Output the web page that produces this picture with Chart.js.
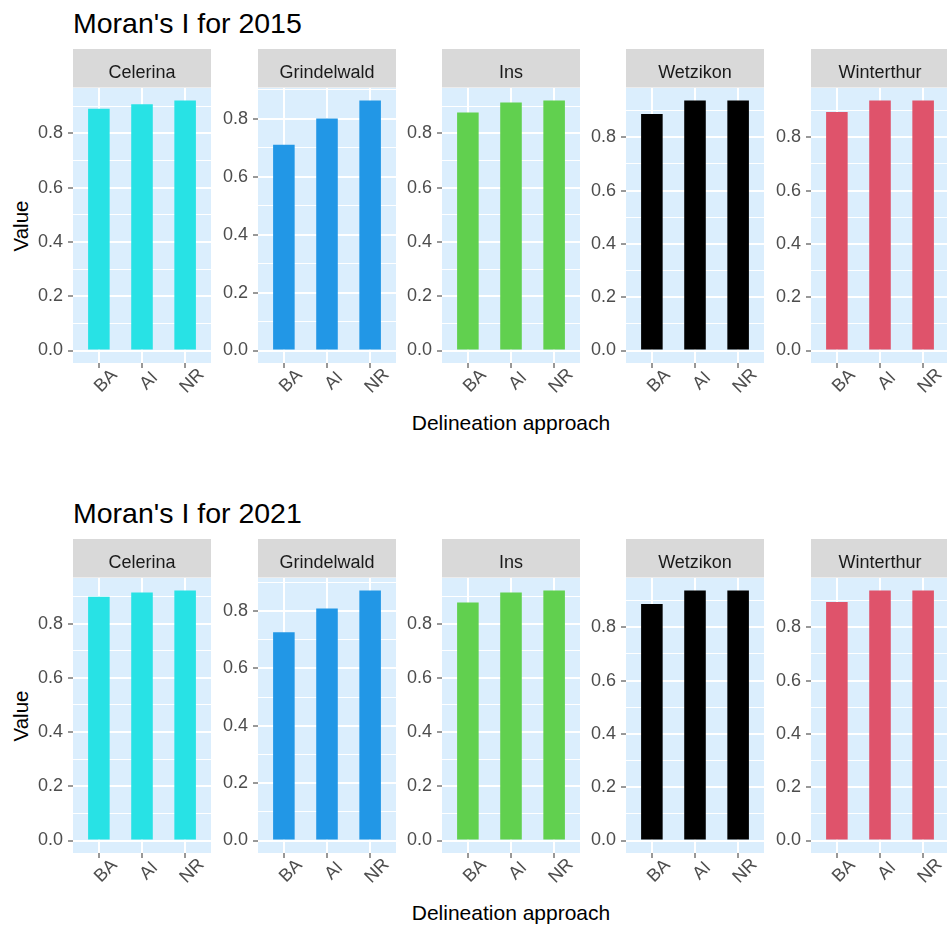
<!DOCTYPE html>
<html>
<head>
<meta charset="utf-8">
<title>Moran's I</title>
<script src="https://cdn.jsdelivr.net/npm/chart.js@4.4.1/dist/chart.umd.min.js"></script>
<style>
  html, body { margin: 0; padding: 0; background: #fff; }
  #fig {
    position: relative; width: 947px; height: 926px; overflow: hidden;
    font-family: "Liberation Sans", Arial, sans-serif; color: #000;
  }
  #fig canvas { position: absolute; }
  .plot-title { position: absolute; left: 73px; font-size: 28.5px; line-height: 1; white-space: nowrap; }
  .x-title { position: absolute; left: 511px; font-size: 21px; line-height: 1; white-space: nowrap; transform: translateX(-50%); }
  .y-title { position: absolute; left: 20.5px; font-size: 20.5px; line-height: 1; white-space: nowrap; transform: translate(-50%, -50%) rotate(-90deg); }
</style>
</head>
<body>
<div id="fig"></div>
<script>
// =====================
// DATA
// =====================
const TOWNS = ["Celerina", "Grindelwald", "Ins", "Wetzikon", "Winterthur"];
const APPROACHES = ["BA", "AI", "NR"];
const TOWN_COLORS = ["#28E2E5", "#2297E6", "#61D04F", "#000000", "#DF536B"];
const YEARS = ["2015", "2021"];

// Moran's I per approach (BA, AI, NR)
const celerina2015 = [0.891, 0.907, 0.921];
const grindelwald2015 = [0.710, 0.801, 0.863];
const ins2015 = [0.877, 0.914, 0.921];
const wetzikon2015 = [0.887, 0.938, 0.938];
const winterthur2015 = [0.895, 0.938, 0.938];

const celerina2021 = [0.899, 0.915, 0.922];
const grindelwald2021 = [0.726, 0.809, 0.872];
const ins2021 = [0.878, 0.915, 0.922];
const wetzikon2021 = [0.887, 0.938, 0.938];
const winterthur2021 = [0.895, 0.938, 0.938];

const SERIES_BY_YEAR = [
  [celerina2015, grindelwald2015, ins2015, wetzikon2015, winterthur2015],
  [celerina2021, grindelwald2021, ins2021, wetzikon2021, winterthur2021]
];

// =====================
// LOOK
// =====================
const FONT = '"Liberation Sans", Arial, sans-serif';
const PANEL_BG = "#dbeefd";
const STRIP_BG = "#d9d9d9";
const ROW_TOP = [49, 539];      // top of the strip row
const ROW_STEP = 490.5;
const STRIP_H = 39;
const Y_AXIS_W = 46;
const X_AXIS_H = 40;
const PANEL_W = 138;
const PANEL_H = 275;

Chart.defaults.font.family = FONT;

const isMajor = v => Math.round(v * 10) % 2 === 0;

// ggplot-like panel background, facet strip and slanted x labels
const facetPlugin = {
  id: "facet",
  beforeDraw(chart, args, opts) {
    const { ctx, chartArea: a } = chart;
    ctx.save();
    ctx.fillStyle = PANEL_BG;
    ctx.fillRect(a.left, a.top, a.right - a.left, a.bottom - a.top);
    ctx.fillStyle = STRIP_BG;
    ctx.fillRect(a.left, 0, a.right - a.left, a.top - 0.5);
    ctx.fillStyle = "#1a1a1a";
    ctx.font = "18px " + FONT;
    ctx.textAlign = "center";
    ctx.textBaseline = "alphabetic";
    ctx.fillText(opts.label, (a.left + a.right) / 2, 28.5);
    ctx.restore();
  },
  afterDraw(chart) {
    const { ctx, chartArea: a } = chart;
    const xs = chart.scales.x;
    ctx.save();
    ctx.fillStyle = "#4d4d4d";
    ctx.font = "18px " + FONT;
    ctx.textAlign = "center";
    ctx.textBaseline = "middle";
    APPROACHES.forEach((lab, i) => {
      ctx.save();
      ctx.translate(xs.getPixelForValue(i) + 7, a.bottom + 18);
      ctx.rotate(-Math.PI / 4);
      ctx.fillText(lab, 0, 0);
      ctx.restore();
    });
    ctx.restore();
  }
};

// =====================
// BUILD
// =====================
function buildPanel(fig, row, col) {
  const values = SERIES_BY_YEAR[row][col];
  const top = Math.max(...values);

  const canvas = document.createElement("canvas");
  canvas.width = Y_AXIS_W + PANEL_W;
  canvas.height = STRIP_H + PANEL_H + X_AXIS_H;
  canvas.style.left = Math.round(27.3 + 184.35 * col) + "px";
  canvas.style.top = ROW_TOP[row] + "px";
  fig.appendChild(canvas);

  new Chart(canvas, {
    type: "bar",
    data: {
      datasets: [{
        data: APPROACHES.map((_, i) => ({ x: i, y: values[i] })),
        backgroundColor: TOWN_COLORS[col],
        borderWidth: 0,
        categoryPercentage: 1,
        barPercentage: 0.5
      }]
    },
    options: {
      responsive: false,
      animation: false,
      events: [],
      layout: { padding: { top: STRIP_H, left: 0, right: 0, bottom: 0 } },
      plugins: {
        legend: { display: false },
        tooltip: { enabled: false },
        facet: { label: TOWNS[col] }
      },
      scales: {
        x: {
          type: "linear",
          offset: false,
          min: -0.6,
          max: APPROACHES.length - 0.4,
          afterBuildTicks: s => { s.ticks = APPROACHES.map((_, i) => ({ value: i })); },
          afterFit: s => { s.height = X_AXIS_H; },
          ticks: { display: false },
          grid: { offset: false, color: "#ffffff", lineWidth: 2, tickColor: "#333333", tickLength: 5, tickWidth: 1 },
          border: { display: false }
        },
        y: {
          min: -0.05 * top,
          max: 1.05 * top,
          afterBuildTicks: s => {
            const ticks = [];
            for (let k = 0; k / 10 <= s.max; k++) ticks.push({ value: k / 10 });
            s.ticks = ticks;
          },
          afterFit: s => { s.width = Y_AXIS_W; },
          ticks: {
            autoSkip: false,
            padding: 5,
            color: "#4d4d4d",
            font: { size: 18 },
            callback: v => isMajor(v) ? v.toFixed(1) : ""
          },
          grid: {
            color: "#ffffff",
            lineWidth: c => (c.tick && isMajor(c.tick.value)) ? 2 : 1,
            tickColor: c => (c.tick && isMajor(c.tick.value)) ? "#333333" : "rgba(0,0,0,0)",
            tickLength: 5,
            tickWidth: 1
          },
          border: { display: false }
        }
      }
    },
    plugins: [facetPlugin]
  });
}

function addText(fig, cls, text, top) {
  const el = document.createElement("div");
  el.className = cls;
  el.textContent = text;
  el.style.top = top + "px";
  fig.appendChild(el);
}

// =====================
// INIT
// =====================
document.addEventListener("DOMContentLoaded", () => {
  const fig = document.getElementById("fig");
  YEARS.forEach((year, row) => {
    const dy = row * ROW_STEP;
    addText(fig, "plot-title", "Moran's I for " + year, 8.5 + dy);
    addText(fig, "y-title", "Value", 225.5 + dy);
    addText(fig, "x-title", "Delineation approach", 411.5 + dy);
    TOWNS.forEach((_, col) => buildPanel(fig, row, col));
  });
});
</script>
</body>
</html>
